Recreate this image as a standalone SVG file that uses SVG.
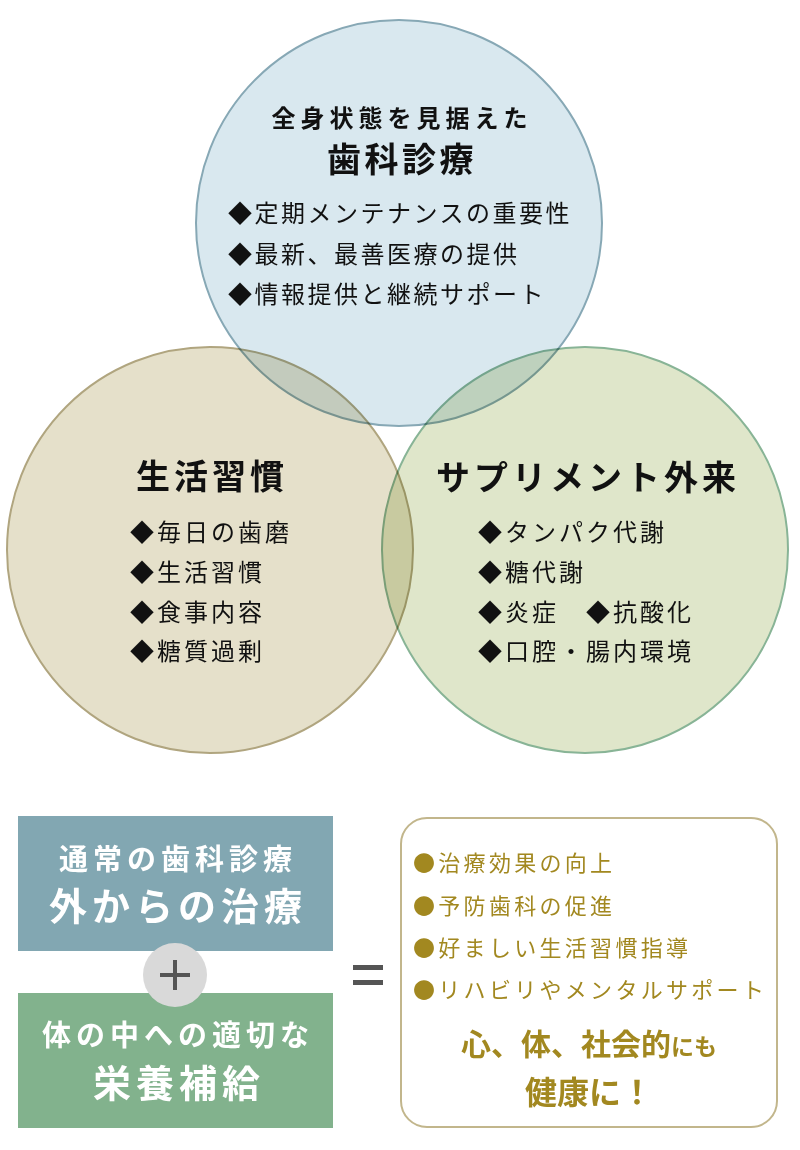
<svg xmlns="http://www.w3.org/2000/svg" width="800" height="1150" viewBox="0 0 800 1150">
<style>
.c{mix-blend-mode:multiply;stroke-width:2}
.t{font-family:"Noto Sans CJK JP","Noto Sans CJK SC",sans-serif;fill:#111}
.h{font-weight:700;text-anchor:middle}
.b{font-size:24px;letter-spacing:3px}
.bt{font-size:24px;letter-spacing:2.5px}
.w{fill:#fff;font-family:"Noto Sans CJK JP",sans-serif;font-weight:700;text-anchor:middle}
.g{fill:#a28820;font-family:"Noto Sans CJK JP",sans-serif}
</style>
<rect width="800" height="1150" fill="#fff"/>
<g id="circle-dental">
<circle class="c" cx="399" cy="223" r="203" fill="#d9e8ef" stroke="#87a8b5"/>
</g>
<g id="circle-lifestyle">
<circle class="c" cx="210" cy="550" r="203" fill="#e5e0ca" stroke="#b0a57f"/>
</g>
<g id="circle-supplement">
<circle class="c" cx="585" cy="550" r="203" fill="#dfe6ca" stroke="#88b496"/>
</g>
<g id="text-dental" class="t">
<text class="t h" x="402" y="127" font-size="24" letter-spacing="5">全身状態を見据えた</text>
<text class="t h" x="402" y="172" font-size="34" letter-spacing="3.5">歯科診療</text>
<text class="t bt" x="228" y="222">◆定期メンテナンスの重要性</text>
<text class="t bt" x="228" y="263">◆最新、最善医療の提供</text>
<text class="t bt" x="228" y="303">◆情報提供と継続サポート</text>
</g>
<g id="text-lifestyle">
<text class="t h" x="212" y="489" font-size="34" letter-spacing="4">生活習慣</text>
<text class="t b" x="130" y="541">◆毎日の歯磨</text>
<text class="t b" x="130" y="581">◆生活習慣</text>
<text class="t b" x="130" y="621">◆食事内容</text>
<text class="t b" x="130" y="660">◆糖質過剰</text>
</g>
<g id="text-supplement">
<text class="t h" x="588" y="490" font-size="34" letter-spacing="4">サプリメント外来</text>
<text class="t b" x="478" y="541">◆タンパク代謝</text>
<text class="t b" x="478" y="581">◆糖代謝</text>
<text class="t b" x="478" y="621">◆炎症　◆抗酸化</text>
<text class="t b" x="478" y="660">◆口腔・腸内環境</text>
</g>
<g id="box-external">
<rect x="18" y="816" width="315" height="135" fill="#82a7b2"/>
<text class="w" x="178" y="870" font-size="29" letter-spacing="5">通常の歯科診療</text>
<text class="w" x="178" y="920" font-size="38" letter-spacing="5">外からの治療</text>
</g>
<g id="box-internal">
<rect x="18" y="993" width="315" height="135" fill="#82b28d"/>
<text class="w" x="178" y="1046" font-size="29" letter-spacing="5">体の中への適切な</text>
<text class="w" x="179" y="1097" font-size="38" letter-spacing="5">栄養補給</text>
</g>
<g id="plus">
<circle cx="175" cy="975" r="32" fill="#d9d9d9"/>
<path d="M160 975H190M175 960V990" stroke="#555" stroke-width="4"/>
</g>
<g id="equals">
<rect x="353" y="965" width="30" height="5" fill="#555"/>
<rect x="353" y="980" width="30" height="5" fill="#555"/>
</g>
<g id="box-result">
<rect x="401" y="818" width="376" height="309" rx="26" fill="#fff" stroke="#c2b68c" stroke-width="2"/>
<text class="g" x="413" y="871" font-size="22" letter-spacing="3.3">●治療効果の向上</text>
<text class="g" x="413" y="914" font-size="22" letter-spacing="3.3">●予防歯科の促進</text>
<text class="g" x="413" y="956" font-size="22" letter-spacing="3.3">●好ましい生活習慣指導</text>
<text class="g" x="413" y="998" font-size="22" letter-spacing="3.3">●リハビリやメンタルサポート</text>
<text class="g" x="589" y="1055" font-size="30" font-weight="700" text-anchor="middle">心、体、社会的<tspan font-size="23">にも</tspan></text>
<text class="g" x="589" y="1104" font-size="32" font-weight="700" text-anchor="middle">健康に！</text>
</g>
</svg>
